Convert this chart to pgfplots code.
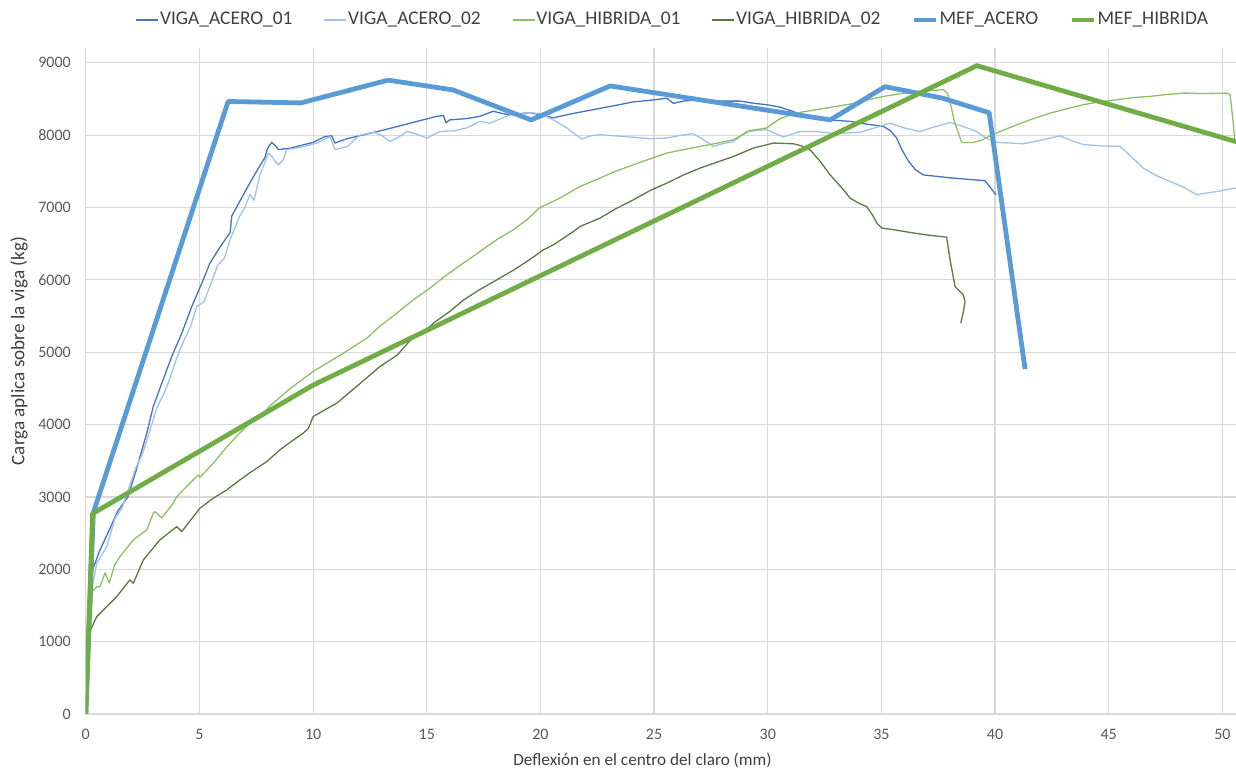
\documentclass[border=0pt]{standalone}
\usepackage{fontspec}
\setmainfont{Carlito}
\usepackage{pgfplots}
\pgfplotsset{compat=1.18}
\usetikzlibrary{calc}
\definecolor{aceroA}{HTML}{4472C4}
\definecolor{aceroB}{HTML}{9DC3E6}
\definecolor{hibA}{HTML}{8DC063}
\definecolor{hibB}{HTML}{5B7A42}
\definecolor{mefA}{HTML}{5B9BD5}
\definecolor{mefH}{HTML}{70AD47}
\definecolor{gridc}{HTML}{D9D9D9}
\definecolor{tickc}{HTML}{595959}
\definecolor{labc}{HTML}{404040}
\begin{document}
\begin{tikzpicture}
\begin{axis}[name=ax, scale only axis, width=575.1pt, height=332.85pt,
  xmin=0, xmax=50.6, ymin=0, ymax=9200,
  xtick={0,5,...,50}, ytick={0,1000,...,9000},
  grid=major, major grid style={draw=gridc, line width=0.6pt},
  axis line style={draw=none}, tick style={draw=none},
  /pgf/number format/assume math mode=true,
  /pgf/number format/1000 sep={},
  scaled y ticks=false,
  ticklabel style={font=\fontsize{8}{9}\selectfont, text=tickc},
  xticklabel style={yshift=-4pt},
  yticklabel style={xshift=-4pt},
  xlabel={Deflexión en el centro del claro (mm)},
  ylabel={Carga aplica sobre la viga (kg)},
  xlabel style={at={(axis description cs:0.484,-0.0691)}, anchor=center, font=\fontsize{8.6}{10}\selectfont, text=labc},
  ylabel style={at={(axis description cs:-0.058,0.545)}, anchor=center, font=\fontsize{9.6}{11}\selectfont, text=labc},
  legend style={at={(axis description cs:0.510,1.0425)}, anchor=center, draw=none, fill=none,
    font=\fontsize{9.7}{11}\selectfont, text=labc, nodes={inner sep=0.6pt},
    /tikz/every even column/.append style={column sep=15pt}},
  legend columns=6,
  legend image code/.code={\draw[#1] (0pt,0pt) -- (11pt,0pt);},
  every axis plot/.append style={line join=round},
]
\addplot[color=aceroA, line width=0.65pt] coordinates {
(0,0) (0.15,1200) (0.3,1990) (0.6,2250) (1.0,2520) (1.4,2800) (1.85,3000) (2.2,3350) (2.68,3880) (2.97,4250) (3.26,4500) (3.78,4940) (4.22,5260) (4.66,5630) (5.1,5950) (5.46,6230) (5.9,6450) (6.27,6620) (6.35,6650) (6.42,6880) (6.8,7100) (7.22,7340) (7.55,7520) (7.88,7690) (8.0,7820) (8.18,7900) (8.35,7850) (8.47,7800) (8.98,7820) (9.5,7860) (10.0,7900) (10.52,7980) (10.82,7990) (10.96,7890) (11.3,7930) (11.62,7960) (12.3,8010) (13.09,8070) (13.97,8140) (14.7,8200) (15.44,8260) (15.73,8270) (15.85,8170) (16.0,8210) (16.8,8230) (17.34,8260) (17.93,8330) (18.3,8300) (18.66,8280) (19.54,8310) (20.0,8280) (20.57,8240) (21.45,8300) (22.62,8370) (23.3,8410) (24.09,8460) (24.8,8480) (25.56,8510) (25.85,8440) (26.3,8470) (27.02,8490) (28.0,8470) (28.78,8470) (29.4,8440) (29.95,8420) (30.5,8390) (31.0,8340) (31.86,8240) (32.7,8210) (33.62,8190) (34.4,8150) (35.09,8120) (35.4,8060) (35.67,7960) (35.9,7800) (36.19,7640) (36.5,7520) (36.85,7450) (38.02,7410) (39.56,7370) (40.04,7175)
};
\addlegendentry{VIGA\_ACERO\_01}
\addplot[color=aceroB, line width=0.65pt] coordinates {
(0,0) (0.15,1100) (0.26,1710) (0.48,2080) (0.92,2310) (1.28,2700) (1.6,2850) (1.87,3100) (2.2,3400) (2.5,3600) (2.9,4000) (3.15,4250) (3.41,4410) (3.6,4550) (4.0,4920) (4.3,5150) (4.6,5350) (4.88,5630) (5.2,5700) (5.46,5910) (5.8,6200) (6.1,6300) (6.34,6550) (6.6,6750) (6.8,6900) (7.0,7000) (7.22,7180) (7.4,7100) (7.66,7450) (8.03,7750) (8.2,7700) (8.32,7640) (8.47,7590) (8.69,7660) (8.84,7800) (9.42,7830) (10.16,7890) (10.74,7980) (10.96,7800) (11.48,7840) (12.06,8000) (12.65,8040) (13.0,8000) (13.38,7910) (13.8,7980) (14.12,8050) (14.5,8020) (15.0,7960) (15.58,8050) (16.2,8060) (16.76,8100) (17.34,8190) (17.78,8165) (18.66,8280) (19.4,8310) (19.98,8300) (20.57,8210) (21.16,8100) (21.82,7945) (22.2,7990) (22.62,8005) (23.3,7990) (24.09,7970) (24.8,7950) (25.56,7960) (26.2,8000) (26.73,8020) (27.2,7930) (27.61,7845) (28.0,7880) (28.49,7910) (29.07,8050) (29.95,8075) (30.69,7975) (31.42,8050) (32.15,8050) (33.0,8020) (34.05,8040) (34.7,8100) (35.37,8165) (36.0,8100) (36.69,8050) (37.4,8120) (38.02,8175) (38.6,8120) (39.19,8050) (39.6,7960) (40.07,7900) (41.25,7880) (42.0,7930) (42.86,7990) (43.4,7920) (43.88,7870) (44.7,7850) (45.5,7845) (46.0,7700) (46.52,7545) (47.1,7440) (47.7,7360) (48.3,7280) (48.87,7176) (49.3,7200) (49.75,7220) (50.6,7270)
};
\addlegendentry{VIGA\_ACERO\_02}
\addplot[color=hibA, line width=0.65pt] coordinates {
(0,0) (0.15,1000) (0.3,1700) (0.5,1760) (0.62,1760) (0.85,1950) (1.03,1810) (1.27,2060) (1.5,2175) (2.09,2406) (2.68,2544) (2.97,2775) (3.04,2797) (3.34,2710) (3.85,2913) (4.0,3004) (4.58,3190) (4.95,3304) (5.02,3270) (5.61,3466) (6.2,3690) (6.7,3860) (7.22,4019) (7.66,4110) (8.1,4258) (9.0,4500) (10.0,4733) (11.2,4960) (12.36,5194) (12.94,5360) (13.6,5520) (14.41,5724) (15.2,5900) (15.88,6069) (16.6,6230) (17.34,6392) (18.1,6560) (18.81,6692) (19.4,6830) (19.98,7000) (20.86,7130) (21.74,7290) (22.62,7406) (23.3,7500) (24.09,7590) (24.8,7670) (25.56,7752) (26.3,7800) (27.02,7844) (27.8,7890) (28.49,7936) (29.2,8060) (29.95,8100) (30.5,8220) (30.98,8280) (31.5,8320) (32.15,8351) (33.62,8429) (34.3,8480) (35.09,8535) (35.8,8570) (36.55,8604) (37.73,8627) (37.9,8580) (38.02,8466) (38.2,8200) (38.53,7899) (39.05,7899) (39.4,7930) (39.78,7991) (40.3,8060) (40.96,8143) (41.7,8230) (42.42,8304) (43.1,8360) (43.88,8420) (44.6,8460) (45.35,8489) (46.1,8520) (46.82,8535) (47.5,8560) (48.28,8581) (49.2,8575) (50.19,8581) (50.34,8558) (50.45,8250) (50.56,7890)
};
\addlegendentry{VIGA\_HIBRIDA\_01}
\addplot[color=hibB, line width=0.65pt] coordinates {
(0,0) (0.1,600) (0.21,1160) (0.48,1345) (0.92,1484) (1.36,1622) (1.94,1853) (2.09,1807) (2.53,2129) (3.26,2406) (4.0,2590) (4.22,2521) (5.02,2844) (5.6,2980) (6.2,3097) (6.78,3235) (7.2,3330) (7.96,3488) (8.54,3650) (9.1,3780) (9.57,3881) (9.8,3950) (10.0,4110) (10.5,4200) (11.04,4296) (12.0,4550) (12.94,4802) (13.7,4960) (14.26,5160) (15.14,5355) (15.29,5402) (16.0,5560) (16.61,5720) (17.3,5860) (18.08,6000) (18.9,6150) (19.62,6300) (20.13,6415) (20.57,6484) (21.45,6668) (21.74,6737) (22.62,6853) (23.3,6980) (24.09,7106) (24.8,7230) (25.56,7337) (26.3,7450) (27.02,7544) (27.8,7630) (28.49,7705) (29.37,7821) (30.25,7890) (31.13,7881) (31.5,7850) (31.86,7798) (32.3,7640) (32.74,7452) (33.33,7245) (33.62,7130) (34.0,7060) (34.35,7014) (34.6,6900) (34.8,6784) (35.02,6715) (35.6,6690) (36.26,6655) (37.0,6620) (37.87,6590) (38.02,6277) (38.24,5908) (38.6,5793) (38.68,5700) (38.6,5550) (38.49,5401)
};
\addlegendentry{VIGA\_HIBRIDA\_02}
\addplot[color=mefA, line width=2.4pt] coordinates {
(0,0) (0.33,2780) (6.26,8465) (9.46,8445) (13.3,8760) (16.15,8625) (19.59,8210) (23.07,8680) (32.75,8210) (35.16,8670) (37.7,8510) (39.74,8310) (41.32,4766)
};
\addlegendentry{MEF\_ACERO}
\addplot[color=mefH, line width=2.4pt] coordinates {
(0,0) (0.3,2770) (10.0,4545) (39.2,8960) (51.0,7873)
};
\addlegendentry{MEF\_HIBRIDA}
\end{axis}
\pgfresetboundingbox
\path ($(ax.south west)+(-42.9pt,-27pt)$) rectangle ($(ax.north east)+(0pt,24.15pt)$);
\end{tikzpicture}
\end{document}
